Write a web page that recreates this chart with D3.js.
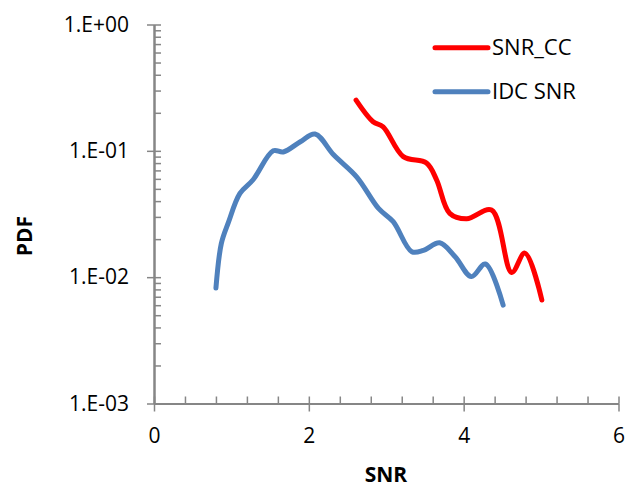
<!DOCTYPE html>
<html>
<head>
<meta charset="utf-8">
<script src="https://cdn.jsdelivr.net/npm/d3@7"></script>
<style>
  body { margin: 0; background: #fff; }
  svg text { font-family: "Open Sans", "Liberation Sans", Arial, sans-serif; fill: #000; }
</style>
</head>
<body>
<svg id="chart" width="625" height="488"></svg>
<script>
// SNR_CC (red)
const ccSnr = [2.61, 2.83, 2.96, 3.22, 3.52, 3.65, 3.82, 4.04, 4.36, 4.62, 4.79, 5.01];
const ccPdf = [0.252, 0.170, 0.155, 0.090, 0.080, 0.059, 0.032, 0.029, 0.034, 0.0109, 0.0155, 0.0066];

// IDC SNR (blue)
const idcSnr = [0.80, 0.87, 0.96, 1.11, 1.28, 1.54, 1.67, 1.89, 2.08, 2.32, 2.62, 2.90, 3.09, 3.33, 3.48, 3.69, 3.89, 4.10, 4.28, 4.51];
const idcPdf = [0.0082, 0.0185, 0.027, 0.046, 0.059, 0.100, 0.098, 0.118, 0.136, 0.093, 0.062, 0.035, 0.0275, 0.0159, 0.0163, 0.0187, 0.0145, 0.0101, 0.0127, 0.0060];

const xTicks = [0, 2, 4, 6];
const yTicks = [1, 0.1, 0.01, 0.001];
const yTickLabels = ["1.E+00", "1.E-01", "1.E-02", "1.E-03"];

const seriesNames = ["SNR_CC", "IDC SNR"];
const seriesColors = ["#ff0000", "#4f81bd"];

const svg = d3.select("#chart");
const axisColor = "#868686";
const font = "Open Sans, Liberation Sans, Arial, sans-serif";

const x = d3.scaleLinear().domain([0, 6]).range([154, 618.5]);
const y = d3.scaleLog().domain([0.001, 1]).range([403.5, 24.5]);

// minor ticks
const xMinor = d3.range(0, 6.001, 0.4);
const yMinor = [];
[0.001, 0.01, 0.1].forEach(d => { for (let k = 1; k <= 9; k++) yMinor.push(d * k); });
yMinor.push(1);

// y axis: outer major ticks
const gy = svg.append("g").attr("transform", `translate(${x(0)},0)`);
gy.call(d3.axisLeft(y).tickValues(yTicks).tickSize(7).tickSizeOuter(0)
  .tickFormat((d, i) => yTickLabels[i]).tickPadding(18));
// inner ticks (major + minor)
const gy2 = svg.append("g").attr("transform", `translate(${x(0)},0)`);
gy2.call(d3.axisRight(y).tickValues(yMinor).tickSize(7).tickSizeOuter(0).tickFormat(""));

// x axis
const gx = svg.append("g").attr("transform", `translate(0,${y(0.001)})`);
gx.call(d3.axisBottom(x).tickValues(xTicks).tickSize(8).tickSizeOuter(0).tickFormat(d3.format("d")).tickPadding(17));
const gx2 = svg.append("g").attr("transform", `translate(0,${y(0.001)})`);
gx2.call(d3.axisTop(x).tickValues(xMinor).tickSize(7).tickSizeOuter(0).tickFormat(""));

[gy, gy2, gx, gx2].forEach(g => {
  g.selectAll(".domain").attr("stroke", axisColor).attr("stroke-width", 2);
  g.selectAll(".tick line").attr("stroke", axisColor).attr("stroke-width", 1.5);
  g.selectAll(".tick text").attr("font-size", 21).attr("font-family", font).attr("fill", "#000");
});

// lines
const line = d3.line()
  .x(d => x(d[0]))
  .y(d => y(d[1]))
  .curve(d3.curveCatmullRom.alpha(0.5));

const ccData = ccSnr.map((v, i) => [v, ccPdf[i]]);
const idcData = idcSnr.map((v, i) => [v, idcPdf[i]]);

svg.append("path").datum(idcData)
  .attr("d", line).attr("fill", "none")
  .attr("stroke", seriesColors[1]).attr("stroke-width", 5).attr("stroke-linecap", "round").attr("stroke-linejoin", "round");
svg.append("path").datum(ccData)
  .attr("d", line).attr("fill", "none")
  .attr("stroke", seriesColors[0]).attr("stroke-width", 5).attr("stroke-linecap", "round").attr("stroke-linejoin", "round");

// axis titles
svg.append("text").attr("x", 386).attr("y", 482)
  .attr("text-anchor", "middle").attr("font-size", 21).attr("font-weight", "bold").text("SNR");
svg.append("text").attr("transform", "translate(32,236) rotate(-90)")
  .attr("text-anchor", "middle").attr("font-size", 21).attr("font-weight", "bold").text("PDF");

// legend
const legend = svg.append("g");
seriesNames.forEach((name, i) => {
  const ly = 47.7 + i * 44;
  legend.append("line").attr("x1", 435).attr("x2", 488).attr("y1", ly).attr("y2", ly)
    .attr("stroke", seriesColors[i]).attr("stroke-width", 5).attr("stroke-linecap", "round");
  legend.append("text").attr("x", 492).attr("y", ly).attr("dy", "0.35em")
    .attr("font-size", 22).text(name);
});
</script>
</body>
</html>
